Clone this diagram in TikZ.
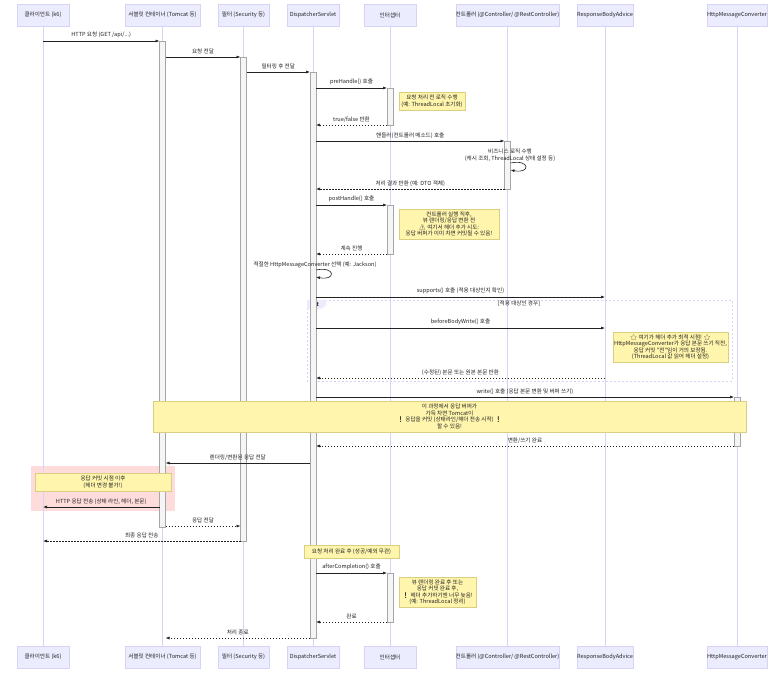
\documentclass[tikz,border=0pt]{standalone}
\usepackage{fontspec}
\setmainfont{Noto Sans CJK KR}
\newfontfamily\emo{Noto Emoji}
\usepackage{xcolor}
\usetikzlibrary{arrows.meta}

\definecolor{actfill}{HTML}{ECECFF}
\definecolor{actline}{HTML}{D8D3F6}
\definecolor{notefill}{HTML}{FFF5AD}
\definecolor{noteline}{HTML}{D8D080}
\definecolor{txt}{HTML}{222222}
\definecolor{pinkbg}{HTML}{FFDCDC}

\tikzset{
	actor/.style={draw=actline, fill=actfill, minimum height=22, inner sep=0, text=txt},
	lifeline/.style={draw=actline, line width=0.8pt},
	msg/.style={draw=txt, line width=0.6pt, -{Latex[length=4pt,width=3pt]}},
	reply/.style={msg, dash pattern=on 1.5pt off 1.5pt},
	lbl/.style={above=1.5pt, text=txt, inner sep=1pt},
	act/.style={draw=gray!70, fill=gray!8, line width=0.5pt},
	note/.style={draw=noteline, fill=notefill, align=center, inner sep=0, text=txt},
}

\begin{document}
\begin{tikzpicture}[x=1pt, y=-1pt, font=\fontsize{5.6}{6.5}\selectfont]
		\useasboundingbox[fill=white] (0,0) rectangle (784,672);
		
		\fill[pinkbg] (31,466) rectangle (175,511);
		
			\foreach \n/\x/\w/\t in {
			client/43/52/{클라이언트 (k6)}, tomcat/162.5/75/{서블릿 컨테이너 (Tomcat 등)},
			filter/243.5/51/{필터 (Security 등)}, ds/313/52/{DispatcherServlet}, icpt/390/52/{인터셉터},
			ctrl/507.5/103/{컨트롤러 (@Controller/ @RestController)}, rba/605/56/{ResponseBodyAdvice},
			hmc/737/58/{HttpMessageConverter}
			}{
				\node[actor, minimum width=\w] (\n) at (\x,15) {\t};
				\node[actor, minimum width=\w] (\n-b) at (\x,657) {\t};
				\draw[lifeline] (\n.south) -- (\n-b.north);
			};
		
		% alt
		\draw[actline, line width=0.7pt, dash pattern=on 2pt off 2pt] (307,300) rectangle (732,381);
		\fill[actfill] (307,300) -- (326,300) -- (326,305) -- (322,308.5) -- (307,308.5) -- cycle;
		\node[text=txt, font=\fontsize{5.6}{6.5}\selectfont\bfseries] (alttag) at (315,304.5) {alt};
		\node[text=txt] (altcond) at (519,304) {[적용 대상인 경우]};
		
			\foreach \p/\t/\b in {
			tomcat/41/527, filter/57/541, ds/72/638, icpt/88/125, ctrl/141/189,
			icpt/205/254, hmc/397/446, icpt/573/622
			}{
				\draw[act] ([xshift=-3]\p |- 0,\t) rectangle ([xshift=3]\p |- 0,\b);
			};
		
		\node[note, minimum width=66, minimum height=18] (n1) at (432,101) {요청 처리 전 로직 수행\\(예: ThreadLocal 초기화)};
		\node[note, minimum width=100, minimum height=30] (n2) at (449,224) {컨트롤러 실행 직후,\\뷰 렌더링/응답 변환 전\\{\emo ⚠} 여기서 헤더 추가 시도:\\응답 버퍼가 이미 차면 커밋될 수 있음!};
		\node[note, minimum width=115, minimum height=30] (n3) at (670.5,347) {{\emo ⭐} 여기가 헤더 추가 최적 시점! {\emo ⭐}\\HttpMessageConverter가 응답 본문 쓰기 직전,\\응답 커밋 "전"임이 거의 보장됨.\\(ThreadLocal 값 읽어 헤더 설정)};
		\node[note, minimum width=593, minimum height=31] (n4) at (449.5,416.5) {이 과정에서 응답 버퍼가\\가득 차면 Tomcat이\\{\emo ❗} 응답을 커밋 (상태라인/헤더 전송 시작) {\emo ❗}\\할 수 있음!};
		\node[note, minimum width=136, minimum height=18] (n5) at (103,482) {응답 커밋 시점 이후\\(헤더 변경 불가!)};
		\node[note, minimum width=95, minimum height=13] (n6) at (351.5,551.5) {요청 처리 완료 후 (성공/예외 무관)};
		\node[note, minimum width=77, minimum height=30] (n7) at (437.5,592) {뷰 렌더링 완료 후 또는\\응답 커밋 완료 후,\\{\emo ❗} 헤더 추가하기엔 너무 늦음!\\(예: ThreadLocal 정리)};
		
			\foreach \y/\a/\sa/\b/\sb/\s/\t in {
			41/client/0/tomcat/-3/msg/{HTTP 요청 (GET /api/...)},
			57/tomcat/3/filter/-3/msg/{요청 전달},
			72/filter/3/ds/-3/msg/{필터링 후 전달},
			88/ds/3/icpt/-3/msg/{preHandle() 호출},
			125/icpt/-3/ds/3/reply/{true/false 반환},
			141/ds/3/ctrl/-3/msg/{핸들러(컨트롤러 메소드) 호출},
			189/ctrl/-3/ds/3/reply/{처리 결과 반환 (예: DTO 객체)},
			205/ds/3/icpt/-3/msg/{postHandle() 호출},
			254/icpt/-3/ds/3/reply/{계속 진행},
			297/ds/3/rba/0/msg/{supports() 호출 (적용 대상인지 확인)},
			328/ds/3/rba/0/msg/{beforeBodyWrite() 호출},
			378/rba/0/ds/3/reply/{(수정된) 본문 또는 원본 본문 반환},
			397/ds/3/hmc/-3/msg/{write() 호출 (응답 본문 변환 및 버퍼 쓰기)},
			446/hmc/-3/ds/3/reply/{변환/쓰기 완료},
			463/ds/-3/tomcat/3/msg/{렌더링/변환된 응답 전달},
			507/tomcat/-3/client/0/msg/{HTTP 응답 전송 (상태 라인, 헤더, 본문)},
			526/tomcat/3/filter/-3/reply/{응답 전달},
			541/filter/-3/client/0/reply/{최종 응답 전송},
			573/ds/3/icpt/-3/msg/{afterCompletion() 호출},
			622/icpt/-3/ds/3/reply/{완료},
			638/ds/-3/tomcat/3/reply/{처리 종료}
			}{
				\draw[\s] ([xshift=\sa]\a |- 0,\y) -- node[lbl] {\t} ([xshift=\sb]\b |- 0,\y);
			};
		
		% self calls
		\node[text=txt, align=center] (bizlbl) at (510,155) {비즈니스 로직 수행\\(캐시 조회, ThreadLocal 상태 설정 등)};
		\draw[msg] ([xshift=3]ctrl |- 0,163) .. controls +(20,-4) and +(20,4) .. ([xshift=3]ctrl |- 0,170);
		\node[text=txt] (convlbl) at (315,265) {적절한 HttpMessageConverter 선택 (예: Jackson)};
		\draw[msg] ([xshift=3]ds |- 0,270) .. controls +(20,-4) and +(20,4) .. ([xshift=3]ds |- 0,277);
		
		\end{tikzpicture}
\end{document}
